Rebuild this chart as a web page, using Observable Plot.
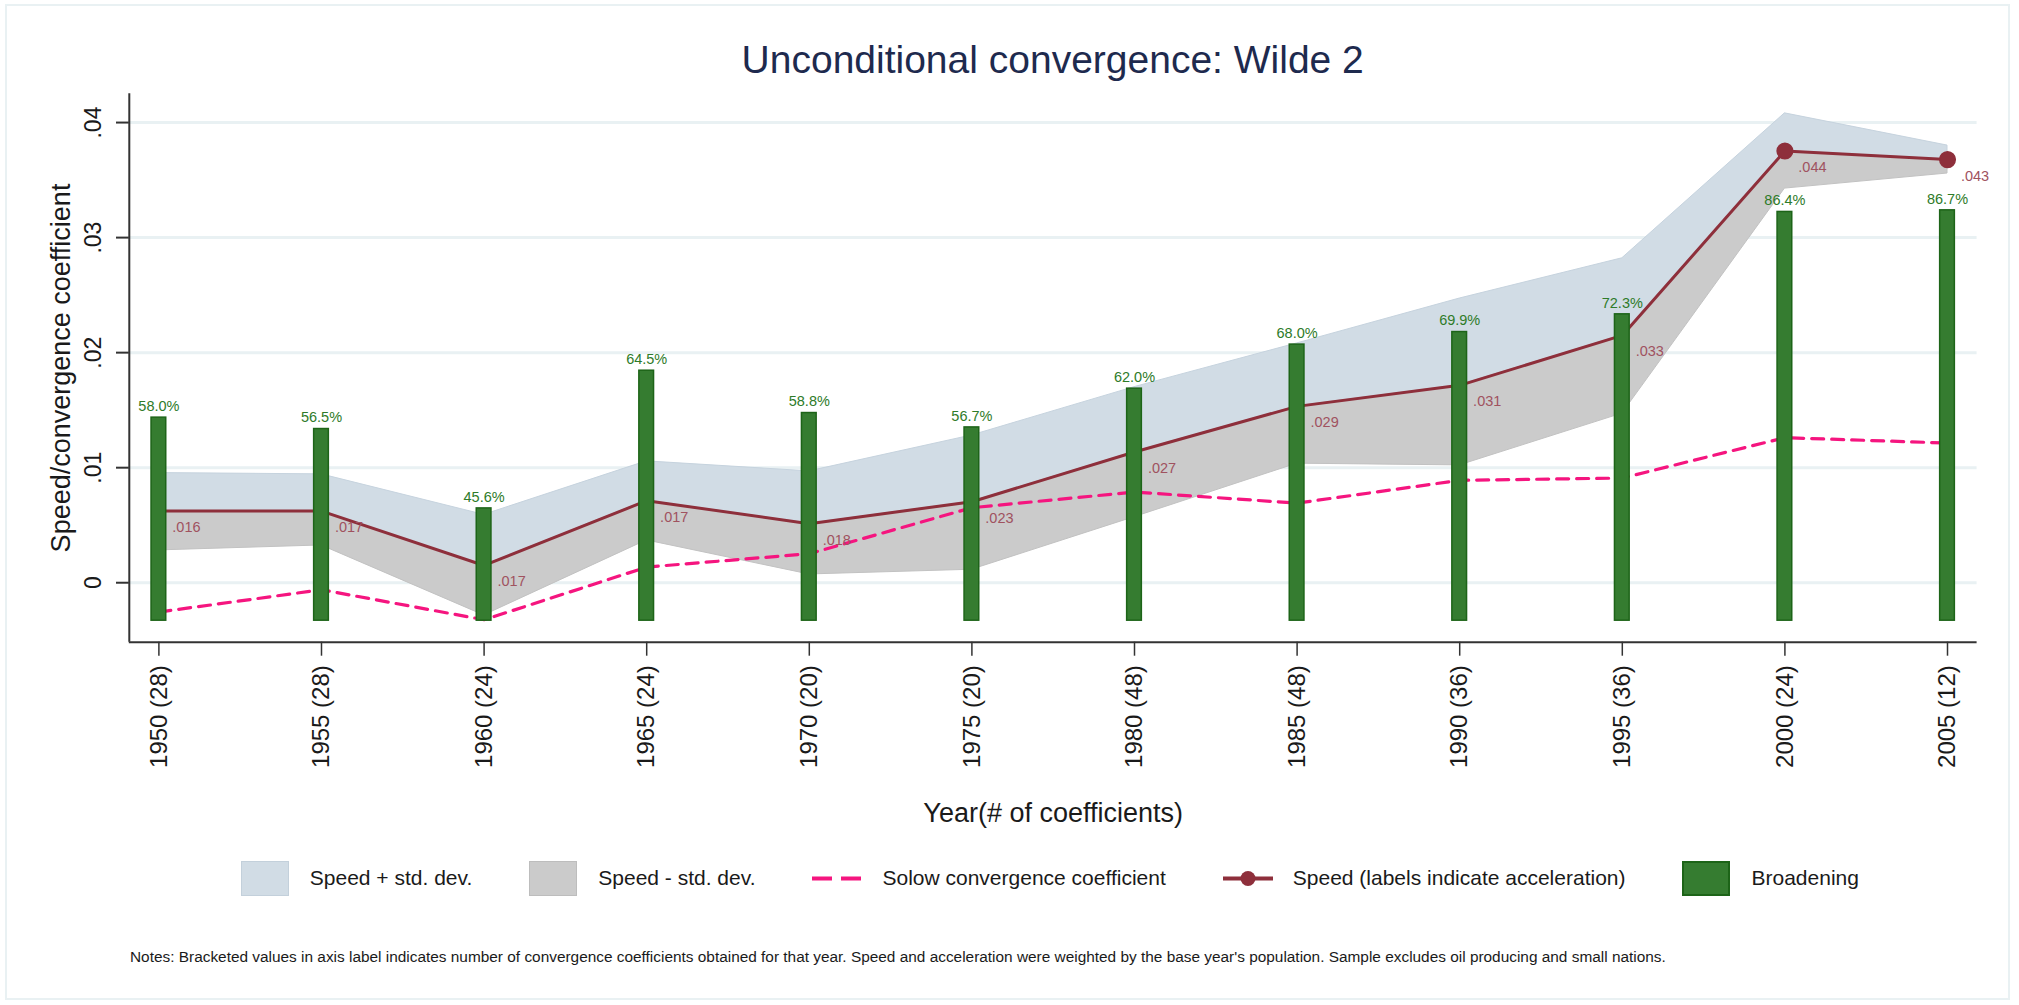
<!DOCTYPE html>
<html>
<head>
<meta charset="utf-8">
<script src="https://cdn.jsdelivr.net/npm/d3@7"></script>
<script src="https://cdn.jsdelivr.net/npm/@observablehq/plot@0.6"></script>
<style>
  html, body { margin: 0; padding: 0; background: #ffffff; }
  body { font-family: "Liberation Sans", Arial, sans-serif; }
  #root { position: relative; width: 2019px; height: 1005px; background: #ffffff; overflow: hidden; }
  #frame { position: absolute; left: 5px; top: 4px; width: 2005px; height: 996px; border: 2px solid #e9f1f3; box-sizing: border-box; }
  #title { position: absolute; left: 128.8px; width: 1847.8px; top: 38px; line-height: 44px; font-size: 39px; color: #1e2a4e; text-align: center; white-space: nowrap; }
  #chart { position: absolute; left: 0; top: 85px; }
  #legend { position: absolute; left: 240.8px; top: 860px; height: 36px; display: flex; align-items: center; font-size: 21px; color: #1a1a1a; white-space: nowrap; }
  .item { display: flex; align-items: center; margin-right: 57px; }
  .sw { width: 48px; height: 35px; box-sizing: border-box; margin-right: 21px; }
  .svgsw { width: 50px; height: 35px; margin-right: 20px; }
  #notes { position: absolute; left: 130px; top: 948px; font-size: 15.4px; line-height: 18px; color: #1a1a1a; white-space: nowrap; }
</style>
</head>
<body>
<div id="root">
  <div id="frame"></div>
  <div id="title"></div>
  <div id="chart"></div>
  <div id="legend"></div>
  <div id="notes"></div>
</div>
<script>
// ---------------- data ----------------
const years = [1950, 1955, 1960, 1965, 1970, 1975, 1980, 1985, 1990, 1995, 2000, 2005];
const counts = [28, 28, 24, 24, 20, 20, 48, 48, 36, 36, 24, 12];
const speed = [0.00623, 0.00623, 0.0015, 0.00713, 0.00513, 0.00704, 0.01136, 0.01533, 0.01716, 0.0215, 0.03753, 0.03678];
const speedPlusSd = [0.00953, 0.00942, 0.0059, 0.01055, 0.00968, 0.0128, 0.0170, 0.0208, 0.0247, 0.0282, 0.0408, 0.0380];
const speedMinusSd = [0.00281, 0.00324, -0.00284, 0.00368, 0.00072, 0.00113, 0.0057, 0.01035, 0.0102, 0.0147, 0.03426, 0.03557];
const solow = [-0.00255, -0.00061, -0.00322, 0.00136, 0.00252, 0.00652, 0.00788, 0.00692, 0.0089, 0.0091, 0.01261, 0.01214];
const broadening = [0.01435, 0.01336, 0.00646, 0.01843, 0.01475, 0.0135, 0.01687, 0.0207, 0.02179, 0.02333, 0.03223, 0.03237];
const broadeningLabels = ["58.0%", "56.5%", "45.6%", "64.5%", "58.8%", "56.7%", "62.0%", "68.0%", "69.9%", "72.3%", "86.4%", "86.7%"];
const accelerationLabels = [".016", ".017", ".017", ".017", ".018", ".023", ".027", ".029", ".031", ".033", ".044", ".043"];
const speedMarker = [false, false, false, false, false, false, false, false, false, false, true, true];
const barBase = -0.0033;
const yTicks = [0, 0.01, 0.02, 0.03, 0.04];
const yDomain = [-0.00517, 0.0425];
const xDomain = [1949.09, 2005.91];

const titleText = "Unconditional convergence: Wilde 2";
const xTitle = "Year(# of coefficients)";
const yTitle = "Speed/convergence coefficient";
const legendLabels = ["Speed + std. dev.", "Speed - std. dev.", "Solow convergence coefficient", "Speed (labels indicate acceleration)", "Broadening"];
const notesText = "Notes: Bracketed values in axis label indicates number of convergence coefficients obtained for that year. Speed and acceleration were weighted by the base year's population. Sample excludes oil producing and small nations.";

// ---------------- colours ----------------
const cBlue = "#d1dce5", cGray = "#cbcbcb", cPink = "#f5157f", cMaroon = "#8e2f3b", cGreen = "#357c30", cGreenDark = "#1d6418";
const cAccel = "#a0525f", cPct = "#2e7b29";

const table = years.map((y, i) => ({
  year: y, count: counts[i], speed: speed[i], upper: speedPlusSd[i], lower: speedMinusSd[i],
  solow: solow[i], broad: broadening[i], broadLabel: broadeningLabels[i], accel: accelerationLabels[i],
  marked: speedMarker[i], base: barBase
}));
const barHalf = 0.226;
const fmtY = d => d === 0 ? "0" : d3.format(".2f")(d).replace(/^0/, "");
const fmtX = d => `${d} (${counts[years.indexOf(d)]})`;

const chart = Plot.plot({
  width: 2019,
  height: 760,
  marginTop: 8.3,
  marginBottom: 203.3,
  marginLeft: 128.8,
  marginRight: 42.4,
  style: { fontFamily: "Liberation Sans, Arial, sans-serif", background: "transparent", color: "#1a1a1a" },
  x: { domain: xDomain, label: null },
  y: { domain: yDomain, label: null },
  marks: [
    Plot.gridY(yTicks, { stroke: "#e9f1f3", strokeWidth: 3, strokeOpacity: 1 }),
    Plot.areaY(table, { x: "year", y1: "speed", y2: "upper", fill: cBlue, stroke: "#c6d3de", strokeWidth: 1 }),
    Plot.areaY(table, { x: "year", y1: "lower", y2: "speed", fill: cGray, stroke: "#c2c2c2", strokeWidth: 1 }),
    Plot.line(table, { x: "year", y: "solow", stroke: cPink, strokeWidth: 3.2, strokeDasharray: "12,8" }),
    Plot.line(table, { x: "year", y: "speed", stroke: cMaroon, strokeWidth: 3 }),
    Plot.rectY(table, { x1: d => d.year - barHalf, x2: d => d.year + barHalf, y1: "base", y2: "broad", fill: cGreen, stroke: cGreenDark, strokeWidth: 1.5 }),
    Plot.dot(table.filter(d => d.marked), { x: "year", y: "speed", r: 7.8, fill: cMaroon, stroke: cMaroon }),
    Plot.text(table, { x: "year", y: "speed", text: "accel", dx: 13.4, dy: 21, textAnchor: "start", lineAnchor: "bottom", fill: cAccel, fontSize: 14.5 }),
    Plot.text(table, { x: "year", y: "broad", text: "broadLabel", dy: -6.6, textAnchor: "middle", lineAnchor: "bottom", fill: cPct, fontSize: 14.5 }),
    Plot.ruleX([xDomain[0]], { stroke: "#333333", strokeWidth: 2 }),
    Plot.ruleY([yDomain[0]], { stroke: "#333333", strokeWidth: 2 }),
    Plot.axisY({ ticks: yTicks, tickFormat: fmtY, tickSize: 12.8, tickPadding: 16, tickRotate: -90, fontSize: 23, stroke: "#333333", strokeWidth: 2, fill: "#1a1a1a", label: null }),
    Plot.axisX({ ticks: years, tickFormat: fmtX, tickSize: 14, tickPadding: 9, tickRotate: -90, fontSize: 24, stroke: "#333333", strokeWidth: 1.5, fill: "#1a1a1a", label: null }),
    Plot.text([xTitle], { frameAnchor: "bottom", dy: 179.3, lineAnchor: "bottom", textAnchor: "middle", fontSize: 27, fill: "#1a1a1a" }),
    Plot.text([yTitle], { frameAnchor: "left", dx: -59, rotate: -90, lineAnchor: "bottom", textAnchor: "middle", fontSize: 27, fill: "#1a1a1a" })
  ]
});
document.getElementById("chart").appendChild(chart);
document.getElementById("title").textContent = titleText;
document.getElementById("notes").textContent = notesText;

// ---------------- legend ----------------
const legend = document.getElementById("legend");
const swatches = [
  `<div class="sw" style="background:${cBlue};border:1px solid #c3d0db"></div>`,
  `<div class="sw" style="background:${cGray};border:1px solid #bdbdbd"></div>`,
  `<svg class="svgsw" viewBox="0 0 50 35"><line x1="0" y1="17.5" x2="50" y2="17.5" stroke="${cPink}" stroke-width="4" stroke-dasharray="20,9"/></svg>`,
  `<svg class="svgsw" viewBox="0 0 50 35"><line x1="0" y1="17.5" x2="50" y2="17.5" stroke="${cMaroon}" stroke-width="4"/><circle cx="25" cy="17.5" r="7.5" fill="${cMaroon}"/></svg>`,
  `<div class="sw" style="background:${cGreen};border:2px solid ${cGreenDark}"></div>`
];
legendLabels.forEach((lab, i) => {
  const it = document.createElement("div");
  it.className = "item";
  it.innerHTML = swatches[i] + `<span>${lab}</span>`;
  legend.appendChild(it);
});
</script>
</body>
</html>
